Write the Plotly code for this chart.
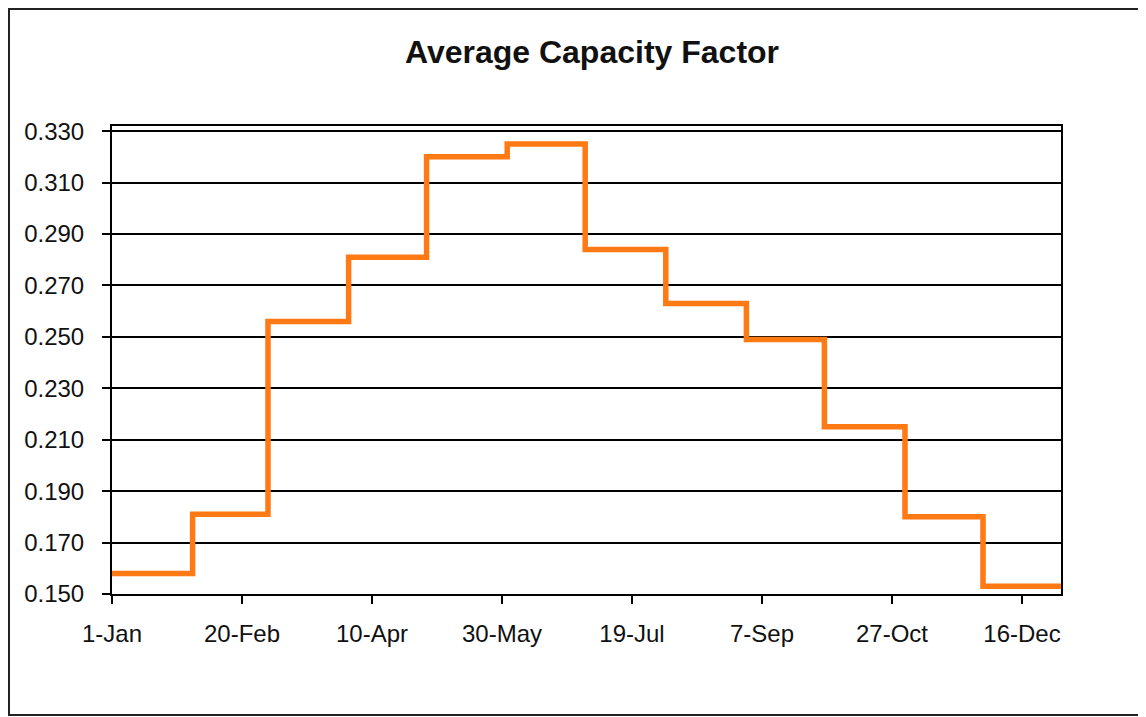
import plotly.graph_objects as go

# Data
month_starts = ["2008-01-01", "2008-02-01", "2008-03-01", "2008-04-01", "2008-05-01", "2008-06-01",
                "2008-07-01", "2008-08-01", "2008-09-01", "2008-10-01", "2008-11-01", "2008-12-01"]
year_end = "2008-12-31"
capacity_factor = [0.158, 0.181, 0.256, 0.281, 0.320, 0.325, 0.284, 0.263, 0.249, 0.215, 0.180, 0.153]
y_ticks = [0.150, 0.170, 0.190, 0.210, 0.230, 0.250, 0.270, 0.290, 0.310, 0.330]

x = month_starts + [year_end]
y = capacity_factor + [capacity_factor[-1]]

fig = go.Figure()
fig.add_trace(go.Scatter(
    x=x, y=y, mode="lines", line=dict(color="#FF7A14", width=5.5, shape="hv"),
    showlegend=False, hoverinfo="x+y"
))

font_family = "Liberation Sans, Arial, sans-serif"

W, H = 1138, 709
L, T, PW, PH = 104, 118, 949, 468

fig.update_layout(
    width=W, height=H,
    margin=dict(l=L, r=W - L - PW, t=T, b=H - T - PH),
    paper_bgcolor="white", plot_bgcolor="white",
    title=dict(text="<b>Average Capacity Factor</b>", x=584 / W, xanchor="center",
               y=1 - 44 / H, yanchor="middle", yref="container", xref="container",
               font=dict(family=font_family, size=32, color="#111111")),
    font=dict(family=font_family, size=24, color="#111111"),
    xaxis=dict(
        type="date", range=["2008-01-01", year_end],
        tick0="2008-01-01", dtick=50 * 86400000, tickformat="%-d-%b",
        ticks="outside", ticklen=8, tickwidth=2, tickcolor="black",
        showline=True, linecolor="black", linewidth=2, mirror=True,
        showgrid=False, zeroline=False, ticklabelstandoff=9,
    ),
    yaxis=dict(
        range=[0.150, 0.332], tickvals=y_ticks, tickformat=".3f",
        ticks="outside", ticklen=8, tickwidth=2, tickcolor="black",
        showline=True, linecolor="black", linewidth=2, mirror=True,
        showgrid=True, gridcolor="black", gridwidth=2, zeroline=False,
        ticklabelstandoff=13,
    ),
    shapes=[dict(type="rect", xref="paper", yref="paper",
                 x0=(1 - L) / PW, x1=1.3, y0=-(H - 2 - T - PH) / PH, y1=1 + (T - 1) / PH,
                 line=dict(color="#222222", width=2), fillcolor="rgba(0,0,0,0)", layer="below")],
)

fig.write_html("out.html")
